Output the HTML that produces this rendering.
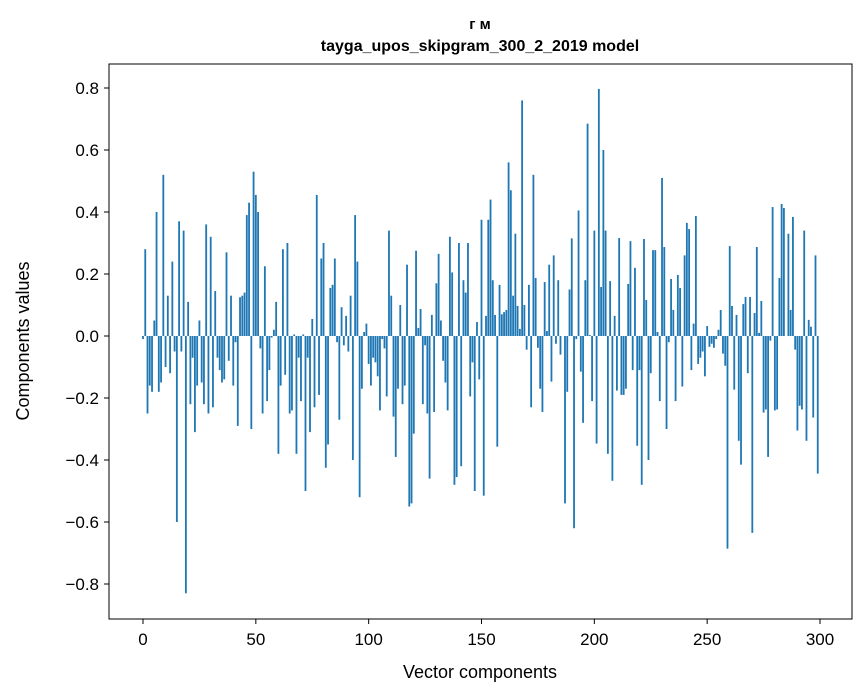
<!DOCTYPE html>
<html><head><meta charset="utf-8"><style>
html,body{margin:0;padding:0;background:#fff;}
svg{display:block;font-family:"Liberation Sans","DejaVu Sans",sans-serif;}
</style></head><body>
<svg id="chart" width="867" height="696" viewBox="0 0 867 696" xmlns="http://www.w3.org/2000/svg">
<rect width="867" height="696" fill="#fff"/>
<text x="480" y="29" text-anchor="middle" font-size="15" font-weight="bold">г м</text>
<text x="480" y="51" text-anchor="middle" font-size="16" font-weight="bold">tayga_upos_skipgram_300_2_2019 model</text>
<g id="bars"></g>
<g id="xticks"></g>
<g id="yticks"></g>
<rect x="109" y="64" width="743" height="555" fill="none" stroke="#000" stroke-width="1"/>
<text x="480" y="678" text-anchor="middle" font-size="18">Vector components</text>
<text x="0" y="0" transform="translate(29,341) rotate(-90)" text-anchor="middle" font-size="18">Components values</text>
</svg>
<script>
const values = [
-0.01,0.28,-0.25,-0.16,-0.18,0.05,0.40,-0.18,-0.15,0.52,
-0.10,0.13,-0.12,0.24,-0.05,-0.60,0.37,-0.05,0.34,-0.83,
0.11,-0.22,-0.07,-0.31,-0.16,0.05,-0.15,-0.22,0.36,-0.25,
0.32,-0.23,0.145,-0.07,-0.11,-0.15,-0.14,0.27,-0.08,0.13,
-0.16,-0.02,-0.29,0.125,0.13,0.14,0.39,0.43,-0.30,0.53,
0.455,0.40,-0.04,-0.25,0.225,-0.21,-0.11,-0.005,0.02,0.11,
-0.38,-0.16,0.28,-0.125,0.30,-0.25,-0.24,0.005,-0.38,-0.07,
-0.21,0.005,-0.50,-0.07,-0.31,0.055,-0.23,0.455,-0.19,0.25,
0.30,-0.425,-0.35,0.155,0.165,0.25,-0.02,-0.27,0.093,-0.03,
0.065,-0.05,0.13,-0.40,0.39,0.24,-0.52,-0.17,0.013,0.04,
-0.09,-0.16,-0.07,-0.085,-0.13,-0.24,-0.01,-0.04,-0.195,0.34,
0.13,-0.26,-0.39,-0.17,0.10,-0.22,-0.16,0.23,-0.55,-0.54,
-0.315,0.275,0.026,0.087,-0.22,-0.03,-0.25,-0.46,0.068,-0.245,
0.17,0.265,0.05,-0.08,-0.15,-0.24,0.32,0.205,-0.48,-0.455,
0.30,-0.42,0.18,0.14,0.30,-0.195,-0.085,-0.50,0.045,-0.14,
0.375,-0.515,0.065,0.375,0.44,0.18,0.068,-0.357,0.165,0.07,
0.077,0.084,0.56,0.47,0.13,0.33,0.097,0.023,0.76,0.10,
-0.044,0.165,-0.23,0.52,0.187,-0.038,-0.17,-0.245,0.174,0.016,
0.23,-0.147,0.26,-0.025,0.18,-0.06,0.0,-0.54,-0.18,0.15,
0.315,-0.62,-0.01,0.405,-0.115,-0.28,0.18,0.685,0.003,-0.21,
0.34,-0.347,0.797,0.158,0.60,0.34,-0.38,0.177,-0.467,0.065,
-0.176,0.316,-0.19,-0.19,-0.17,0.168,0.306,-0.11,0.22,-0.354,
-0.11,-0.48,0.313,0.116,-0.40,-0.12,0.277,0.277,0.013,-0.21,
0.51,0.287,-0.30,-0.02,0.184,0.084,-0.21,0.197,0.155,-0.163,
0.26,0.365,0.345,-0.11,0.04,0.387,-0.09,-0.07,-0.05,-0.13,
0.032,-0.035,-0.025,-0.038,-0.01,0.02,0.084,-0.057,-0.096,-0.686,
0.29,0.097,-0.173,0.068,-0.338,-0.415,0.103,0.126,-0.12,0.126,
-0.635,0.074,0.287,0.01,0.113,-0.247,-0.237,-0.39,-0.015,0.416,
-0.24,-0.237,0.187,0.426,0.413,0.0,0.33,0.084,0.384,-0.044,
-0.305,-0.225,-0.237,0.34,-0.338,0.052,0.03,-0.263,0.26,-0.444
];
const xTickValues = [0,50,100,150,200,250,300];
const yTickValues = [-0.8,-0.6,-0.4,-0.2,0.0,0.2,0.4,0.6,0.8];

const NS = "http://www.w3.org/2000/svg";
function xScale(v){ return 143 + v * (677/300); }
function yScale(v){ return 336 - v * 310; }
const barW = 0.8 * (677/300);

const barsG = document.getElementById('bars');
values.forEach(function(v, i){
  const r = document.createElementNS(NS, 'rect');
  
  
  const y0 = yScale(0), y1 = yScale(v);
  r.setAttribute('x', (xScale(i) - barW/2).toFixed(2));
  r.setAttribute('y', Math.min(y0, y1).toFixed(2));
  r.setAttribute('width', barW.toFixed(2));
  r.setAttribute('height', Math.max(Math.abs(y1 - y0), 0.01).toFixed(2));
  r.setAttribute('fill', '#1f77b4');
  barsG.appendChild(r);
});

const xg = document.getElementById('xticks');
xTickValues.forEach(function(t){
  const x = xScale(t);
  const l = document.createElementNS(NS, 'line');
  
  
  l.setAttribute('x1', x); l.setAttribute('x2', x);
  l.setAttribute('y1', 619); l.setAttribute('y2', 624);
  l.setAttribute('stroke', '#000');
  xg.appendChild(l);
  const tx = document.createElementNS(NS, 'text');
  
  
  tx.setAttribute('x', x); tx.setAttribute('y', 645);
  tx.setAttribute('text-anchor', 'middle');
  tx.setAttribute('font-size', '17');
  tx.textContent = String(t);
  xg.appendChild(tx);
});

const yg = document.getElementById('yticks');
yTickValues.forEach(function(t){
  const y = yScale(t);
  const l = document.createElementNS(NS, 'line');
  
  
  l.setAttribute('x1', 104); l.setAttribute('x2', 109);
  l.setAttribute('y1', y); l.setAttribute('y2', y);
  l.setAttribute('stroke', '#000');
  yg.appendChild(l);
  const tx = document.createElementNS(NS, 'text');
  
  
  tx.setAttribute('x', 99); tx.setAttribute('y', y + 6);
  tx.setAttribute('text-anchor', 'end');
  tx.setAttribute('font-size', '17');
  tx.textContent = (t < 0 ? '\u2212' : '') + Math.abs(t).toFixed(1);
  yg.appendChild(tx);
});
</script>
</body></html>
